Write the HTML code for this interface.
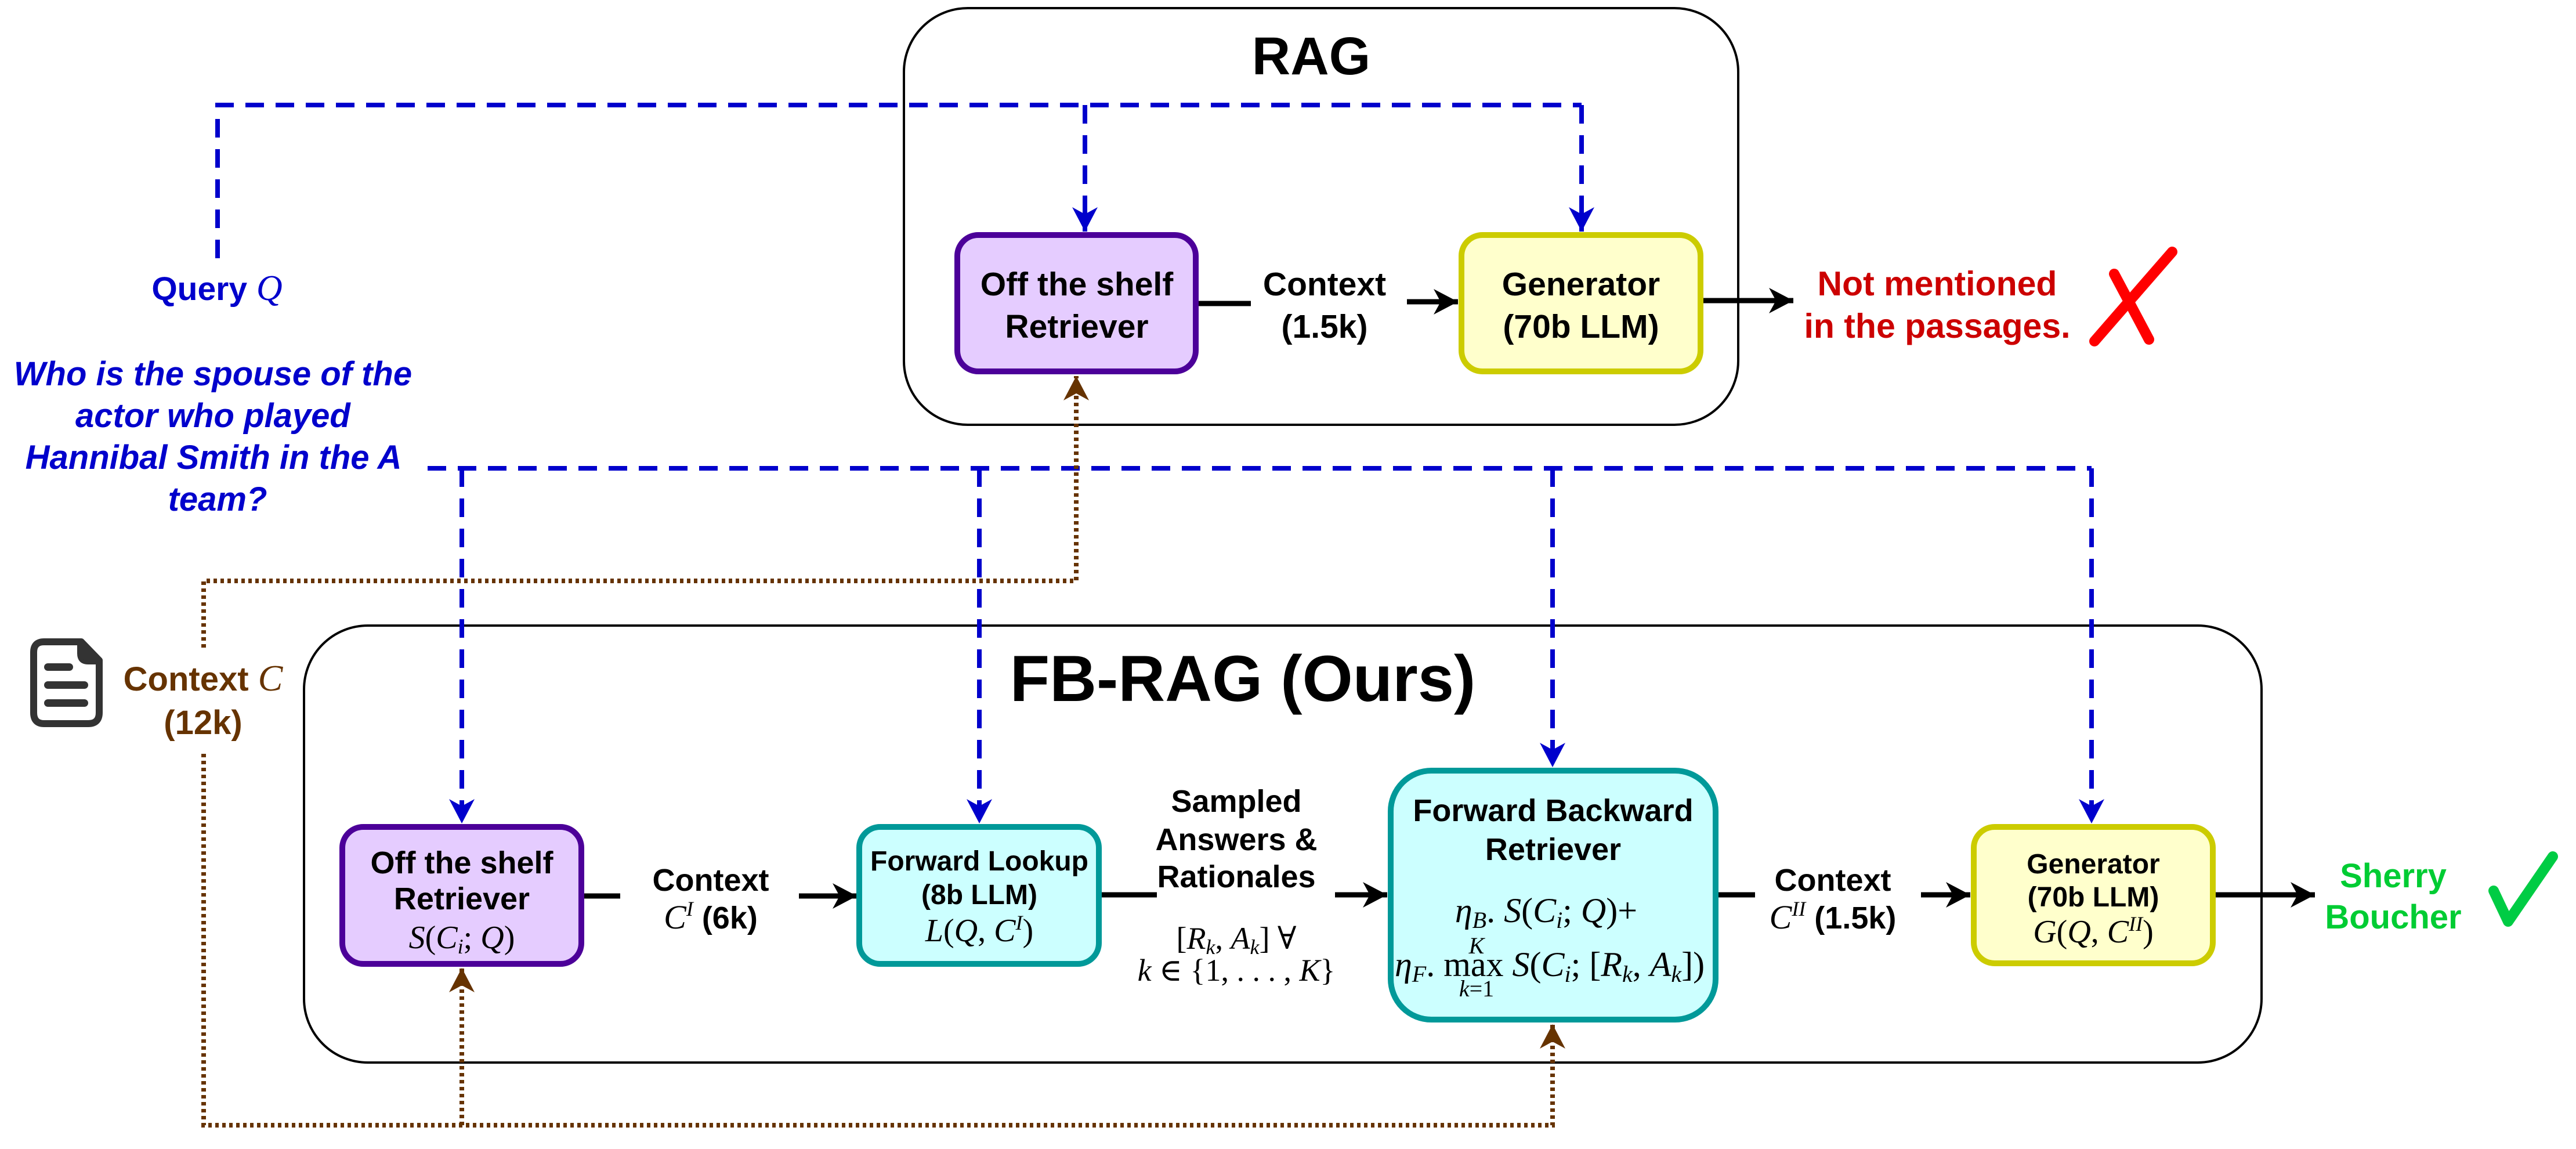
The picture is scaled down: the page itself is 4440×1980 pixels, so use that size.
<!DOCTYPE html>
<html><head><meta charset="utf-8"><style>
html,body{margin:0;padding:0;background:#fff;}
svg{display:block;}
.b{font-family:"Liberation Sans",Arial,sans-serif;font-weight:bold;}
.m{font-family:"Liberation Serif","DejaVu Serif",serif;font-style:italic;font-weight:normal;}
.r{font-family:"Liberation Serif","DejaVu Serif",serif;font-style:normal;font-weight:normal;}
</style></head><body>
<svg width="4440" height="1980" viewBox="0 0 4440 1980" xmlns="http://www.w3.org/2000/svg">
<defs>
<marker id="ab" markerUnits="userSpaceOnUse" markerWidth="50" markerHeight="50" viewBox="0 0 50 50" refX="44" refY="25" orient="auto"><path d="M44,25 L2,3 L14,25 L2,47 Z" fill="#0000CC"/></marker>
<marker id="ak" markerUnits="userSpaceOnUse" markerWidth="50" markerHeight="50" viewBox="0 0 50 50" refX="44" refY="25" orient="auto"><path d="M44,25 L2,3 L14,25 L2,47 Z" fill="#000"/></marker>
<marker id="an" markerUnits="userSpaceOnUse" markerWidth="50" markerHeight="50" viewBox="0 0 50 50" refX="44" refY="25" orient="auto"><path d="M44,25 L2,3 L14,25 L2,47 Z" fill="#663300"/></marker>
</defs>

<rect x="1558" y="14" width="1438" height="718" rx="110" ry="110" fill="none" stroke="#000" stroke-width="4"/>
<text x="2260" y="128" class="b" font-size="92" text-anchor="middle">RAG</text>

<rect x="524" y="1078" width="3374" height="753" rx="110" ry="110" fill="none" stroke="#000" stroke-width="4"/>
<text x="2142" y="1208" class="b" font-size="112" text-anchor="middle">FB-RAG (Ours)</text>

<g fill="none" stroke="#0000CC" stroke-width="8" stroke-dasharray="32 20">
<path d="M375,445 L375,181 L2726,181"/>
<path d="M1870,181 L1870,399" marker-end="url(#ab)"/>
<path d="M2726,181 L2726,399" marker-end="url(#ab)"/>
<path d="M737,807 L3605,807"/>
<path d="M796,807 L796,1419" marker-end="url(#ab)"/>
<path d="M1688,807 L1688,1419" marker-end="url(#ab)"/>
<path d="M2676,807 L2676,1322" marker-end="url(#ab)"/>
<path d="M3605,807 L3605,1419" marker-end="url(#ab)"/>
</g>

<g fill="none" stroke="#663300" stroke-width="8" stroke-dasharray="6 6">
<path d="M351,1116 L351,1001 L1855,1001 L1855,648" marker-end="url(#an)"/>
<path d="M351,1299 L351,1939 L2676,1939 L2676,1765" marker-end="url(#an)"/>
<path d="M796,1939 L796,1668" marker-end="url(#an)"/>
</g>

<g fill="none" stroke="#000" stroke-width="9">
<path d="M2065,523 L2156,523"/>
<path d="M2425,520 L2513,520" marker-end="url(#ak)"/>
<path d="M2935,518 L3091,518" marker-end="url(#ak)"/>
<path d="M1006,1544 L1069,1544"/>
<path d="M1377,1544 L1477,1544" marker-end="url(#ak)"/>
<path d="M1898,1542 L1994,1542"/>
<path d="M2301,1542 L2391,1542" marker-end="url(#ak)"/>
<path d="M2961,1542 L3025,1542"/>
<path d="M3311,1542 L3396,1542" marker-end="url(#ak)"/>
<path d="M3818,1542 L3990,1542" marker-end="url(#ak)"/>
</g>

<rect x="1650" y="405" width="411" height="235" rx="36" fill="#E5CCFF" stroke="#4C0099" stroke-width="10"/>
<text class="b" font-size="57" text-anchor="middle"><tspan x="1856" y="509">Off the shelf</tspan><tspan x="1856" y="582">Retriever</tspan></text>
<text class="b" font-size="57" text-anchor="middle"><tspan x="2283" y="509">Context</tspan><tspan x="2283" y="582">(1.5k)</tspan></text>
<rect x="2519" y="405" width="412" height="235" rx="36" fill="#FFFFCC" stroke="#CCCC00" stroke-width="10"/>
<text class="b" font-size="57" text-anchor="middle"><tspan x="2725" y="509">Generator</tspan><tspan x="2725" y="582">(70b LLM)</tspan></text>
<text class="b" font-size="59" fill="#CC0000" text-anchor="middle"><tspan x="3339" y="509">Not mentioned</tspan><tspan x="3339" y="582">in the passages.</tspan></text>
<g fill="none" stroke="#FF0000" stroke-width="18" stroke-linecap="round">
<path d="M3644,472 L3704,585"/>
<path d="M3744,434 L3610,588"/>
</g>

<text x="374" y="517" class="b" font-size="57" fill="#0000CC" text-anchor="middle">Query <tspan class="m" font-size="62">Q</tspan></text>
<text class="b" font-size="58" fill="#0000CC" font-style="italic" text-anchor="middle">
<tspan x="375" y="664">Who is the spouse of the</tspan>
<tspan x="375" y="736">actor who played</tspan>
<tspan x="375" y="808">Hannibal Smith in the A</tspan>
<tspan x="375" y="880">team?</tspan></text>

<g>
<path d="M76,1106 L140,1106 L171,1138 L171,1228 Q171,1247 152,1247 L76,1247 Q58,1247 58,1228 L58,1124 Q58,1106 76,1106 Z" fill="none" stroke="#333" stroke-width="12" stroke-linejoin="round"/>
<path d="M136,1106 L136,1126 Q136,1142 152,1142 L171,1142 Z" fill="#333" stroke="#333" stroke-width="6" stroke-linejoin="round"/>
<rect x="76" y="1143" width="50" height="13" rx="6.5" fill="#333"/>
<rect x="76" y="1174" width="76" height="13" rx="6.5" fill="#333"/>
<rect x="76" y="1205" width="76" height="13" rx="6.5" fill="#333"/>
</g>
<text x="350" y="1190" class="b" font-size="58" fill="#663300" text-anchor="middle">Context <tspan class="m" font-size="64">C</tspan></text>
<text x="350" y="1265" class="b" font-size="58" fill="#663300" text-anchor="middle">(12k)</text>

<rect x="590" y="1425" width="412" height="236" rx="36" fill="#E5CCFF" stroke="#4C0099" stroke-width="10"/>
<text class="b" font-size="54" text-anchor="middle"><tspan x="796" y="1505">Off the shelf</tspan><tspan x="796" y="1567">Retriever</tspan></text>
<text x="796" y="1634" class="m" font-size="56" text-anchor="middle">S<tspan class="r">(</tspan>C<tspan font-size="36" dy="9">i</tspan><tspan class="r" dy="-9">;</tspan> Q<tspan class="r">)</tspan></text>

<text class="b" font-size="54" text-anchor="middle"><tspan x="1225" y="1535">Context</tspan></text>
<text x="1225" y="1600" text-anchor="middle"><tspan class="m" font-size="58">C</tspan><tspan class="m" font-size="36" dy="-22">I</tspan><tspan class="b" font-size="54" dy="22"> (6k)</tspan></text>

<rect x="1481" y="1425" width="413" height="236" rx="36" fill="#CCFFFF" stroke="#009999" stroke-width="10"/>
<text class="b" font-size="48" text-anchor="middle"><tspan x="1688" y="1500">Forward Lookup</tspan><tspan x="1688" y="1558">(8b LLM)</tspan></text>
<text x="1688" y="1622" class="m" font-size="56" text-anchor="middle">L<tspan class="r">(</tspan>Q<tspan class="r">,</tspan> C<tspan font-size="36" dy="-20">I</tspan><tspan class="r" dy="20">)</tspan></text>

<text class="b" font-size="54" text-anchor="middle"><tspan x="2131" y="1399">Sampled</tspan><tspan x="2131" y="1465">Answers &amp;</tspan><tspan x="2131" y="1529">Rationales</tspan></text>
<text x="2131" y="1635" class="r" font-size="54" text-anchor="middle">[<tspan class="m">R</tspan><tspan class="m" font-size="36" dy="9">k</tspan><tspan dy="-9">, </tspan><tspan class="m">A</tspan><tspan class="m" font-size="36" dy="9">k</tspan><tspan dy="-9">]  ∀</tspan></text>
<text x="2131" y="1690" class="r" font-size="54" text-anchor="middle"><tspan class="m">k</tspan> ∈ {1, . . . , <tspan class="m">K</tspan>}</text>

<rect x="2397" y="1328" width="560" height="429" rx="70" fill="#CCFFFF" stroke="#009999" stroke-width="10"/>
<text class="b" font-size="54" text-anchor="middle"><tspan x="2677" y="1415">Forward Backward</tspan><tspan x="2677" y="1482">Retriever</tspan></text>
<text x="2665" y="1589" class="m" font-size="60" text-anchor="middle">η<tspan font-size="40" dy="10">B</tspan><tspan class="r" dy="-10">. </tspan>S<tspan class="r">(</tspan>C<tspan font-size="40" dy="10">i</tspan><tspan class="r" dy="-10">; </tspan>Q<tspan class="r">)+</tspan></text>
<text x="2545" y="1643" class="m" font-size="40" text-anchor="middle">K</text>
<text x="2545" y="1717" class="m" font-size="40" text-anchor="middle">k<tspan class="r">=1</tspan></text>
<text x="2404" y="1682" class="m" font-size="60">η<tspan font-size="40" dy="10">F</tspan><tspan class="r" dy="-10">. max </tspan>S<tspan class="r">(</tspan>C<tspan font-size="40" dy="10">i</tspan><tspan class="r" dy="-10">; [</tspan>R<tspan font-size="40" dy="10">k</tspan><tspan class="r" dy="-10">, </tspan>A<tspan font-size="40" dy="10">k</tspan><tspan class="r" dy="-10">])</tspan></text>

<text class="b" font-size="54" text-anchor="middle"><tspan x="3159" y="1535">Context</tspan></text>
<text x="3159" y="1600" text-anchor="middle"><tspan class="m" font-size="58">C</tspan><tspan class="m" font-size="36" dy="-22">II</tspan><tspan class="b" font-size="54" dy="22"> (1.5k)</tspan></text>

<rect x="3402" y="1425" width="412" height="235" rx="36" fill="#FFFFCC" stroke="#CCCC00" stroke-width="10"/>
<text class="b" font-size="48" text-anchor="middle"><tspan x="3608" y="1505">Generator</tspan><tspan x="3608" y="1562">(70b LLM)</tspan></text>
<text x="3608" y="1624" class="m" font-size="56" text-anchor="middle">G<tspan class="r">(</tspan>Q<tspan class="r">,</tspan> C<tspan font-size="36" dy="-20">II</tspan><tspan class="r" dy="20">)</tspan></text>

<text class="b" font-size="58" fill="#00CC33" text-anchor="middle"><tspan x="4125" y="1529">Sherry</tspan><tspan x="4125" y="1600">Boucher</tspan></text>
<path d="M4298,1535 L4323,1588 L4400,1476" fill="none" stroke="#00CC44" stroke-width="18" stroke-linecap="round" stroke-linejoin="round"/>
</svg>
</body></html>
